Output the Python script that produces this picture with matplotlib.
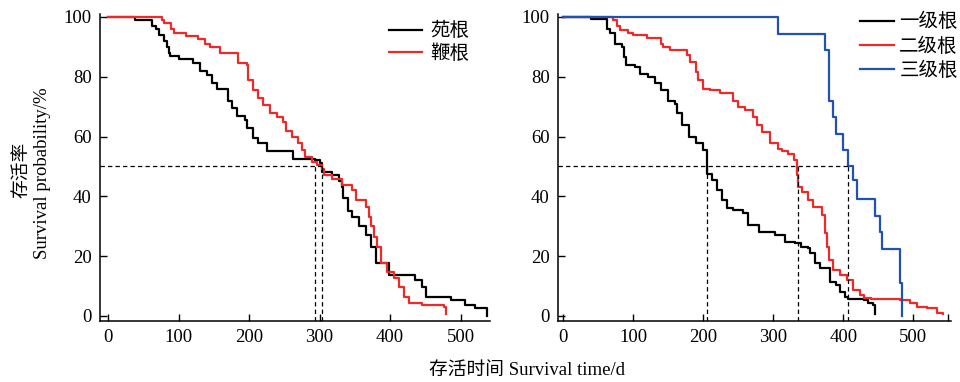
import matplotlib.pyplot as plt

plt.rcParams['font.family'] = ['Liberation Serif', 'Noto Sans CJK SC']
plt.rcParams['axes.unicode_minus'] = False

# left panel: root type
left_names = ['苑根', '鞭根']
left_black_t = [0, 39, 62, 68, 72, 79, 83, 86, 88, 100, 121, 131, 141, 148, 155, 170, 176, 183,
                194, 197, 206, 213, 225, 262, 293, 300, 304, 318, 328, 332, 333, 340, 346, 356,
                366, 373, 380, 398, 436, 445, 451, 487, 507, 521, 537]
left_black_s = [100, 99, 97, 96, 94, 92, 90, 88, 87, 86, 84.5, 82, 80.5, 78, 76, 72, 69.5, 67,
                65.5, 63, 59.5, 58, 55, 52.5, 52, 51, 48, 47, 45, 43, 39.5, 35, 33, 30,
                27, 23, 17.7, 13.7, 12, 9.7, 6.4, 5.3, 3.7, 2.7, 0]
left_red_t = [0, 76, 79, 89, 93, 110, 127, 138, 145, 159, 185, 197, 199, 206, 213, 220, 230, 239,
              248, 253, 261, 269, 275, 279, 290, 296, 304, 306, 318, 332, 346, 352, 366, 370,
              373, 377, 382, 387, 396, 405, 413, 420, 427, 445, 476, 480]
left_red_s = [100, 99, 98, 96, 94.6, 93.6, 92.6, 91, 90, 88, 84.6, 84, 79, 75.6, 73, 70.6, 68, 66.5,
              65, 62, 60, 58, 55.5, 53, 51.5, 50.5, 49, 47, 45.8, 43.8, 42, 38.8, 36.5, 33,
              30, 26.4, 23, 17.7, 14.7, 12.7, 9.7, 6.4, 4.3, 3.7, 3, 0.5]
left_medians = [294, 304]

# right panel: root order
right_names = ['一级根', '二级根', '三级根']
r1_t = [0, 39, 63, 67, 74, 84, 86, 89, 103, 110, 121, 131, 139, 150, 160, 163, 170, 179, 189,
        200, 205, 213, 220, 227, 234, 243, 257, 264, 279, 303, 317, 331, 339, 350, 353, 360,
        367, 381, 389, 396, 403, 407, 429, 436, 443, 446]
r1_s = [100, 99.3, 96, 94.6, 91, 90, 86.6, 84, 83.3, 81, 80, 78, 75.6, 72, 71, 68, 64, 60, 58,
        55.5, 47.5, 45.5, 42, 38.8, 36, 35.5, 34.4, 30.4, 28, 27, 24.7, 24.4, 23, 22.7, 21, 17.7,
        16, 11.4, 10.4, 8, 6.4, 5.7, 5.3, 4.3, 3.7, 0.5]
r2_t = [0, 71, 77, 81, 93, 100, 120, 139, 143, 153, 177, 181, 189, 193, 200, 210, 224, 243, 250,
        260, 271, 277, 284, 296, 307, 313, 321, 329, 334, 336, 341, 350, 357, 370, 374, 377,
        379, 386, 396, 406, 414, 424, 429, 439, 481, 496, 506, 520, 534, 543]
r2_s = [100, 99, 97, 95.6, 94.6, 94, 93, 91, 90, 89, 87.3, 85, 81.6, 79, 76, 75.6, 74.6, 72,
        70, 69, 66.5, 64, 61.5, 58, 56, 55, 54, 52, 47, 43, 41.5, 38.8, 36.5, 33.8, 27.8,
        23, 18.7, 15.4, 13.7, 12, 8.7, 7, 6, 5.7, 5.3, 4.3, 3, 2.7, 1, 0.5]
r3_t = [0, 307, 374, 379, 386, 389, 399, 407, 414, 420, 446, 453, 456, 481, 484]
r3_s = [100, 94.3, 89, 72, 66.5, 61, 55.5, 50, 45.5, 39, 33.5, 28, 22.5, 11, 0]
right_medians = [205, 335, 407]

yticks = [0, 20, 40, 60, 80, 100]
xticks = [0, 100, 200, 300, 400, 500]

fig = plt.figure(figsize=(9.6, 3.82), dpi=100)
ax1 = fig.add_axes([0.1042, 0.1597, 0.40625, 0.8037])
ax2 = fig.add_axes([0.58125, 0.1597, 0.409375, 0.8037])

red = '#f02828'
blue = '#2152b0'
lw = 1.6

ax1.step(left_black_t, left_black_s, where='post', color='black', lw=lw, label=left_names[0])
ax1.step(left_red_t, left_red_s, where='post', color=red, lw=lw, label=left_names[1])

ax2.step(r1_t, r1_s, where='post', color='black', lw=lw, label=right_names[0])
ax2.step(r2_t, r2_s, where='post', color=red, lw=lw, label=right_names[1])
ax2.step(r3_t, r3_s, where='post', color=blue, lw=lw, label=right_names[2])

ax1.set_xlim(-11.3, 541.8)
ax2.set_xlim(-7.6, 553.9)

for ax, meds in [(ax1, left_medians), (ax2, right_medians)]:
    ax.set_ylim(-1.7, 101)
    x0, x1 = ax.get_xlim()
    ax.plot([x0, max(meds)], [50, 50], ls=(0, (3.5, 2.5)), color='black', lw=0.9)
    for m in meds:
        ax.plot([m, m], [-1.7, 50], ls=(0, (3.5, 2.5)), color='black', lw=0.9)
    ax.spines['top'].set_visible(False)
    ax.spines['right'].set_visible(False)
    ax.spines['left'].set_linewidth(1.1)
    ax.spines['bottom'].set_linewidth(1.1)
    ax.set_xticks(xticks)
    ax.set_yticks(yticks)
    ax.tick_params(direction='in', length=5, width=1, labelsize=13.5, pad=6)

ax2.set_xticks([550], minor=True)
ax2.tick_params(axis='x', which='minor', direction='in', length=5, width=1)

ax1.legend(loc='upper left', bbox_to_anchor=(0.695, 1.03), frameon=False, fontsize=14,
           handlelength=1.7, handletextpad=0.45, labelspacing=0.2)
ax2.legend(loc='upper left', bbox_to_anchor=(0.725, 1.06), frameon=False, fontsize=14,
           handlelength=1.75, handletextpad=0.25, labelspacing=0.3)

fig.text(22 / 960, 1 - 170 / 382, '存活率', rotation=90, ha='center', va='center', fontsize=13.5)
fig.text(43 / 960, 1 - 173 / 382, 'Survival probability/%', rotation=90, ha='center', va='center',
         fontsize=13.5)
fig.text(527 / 960, 1 - 370 / 382, '存活时间 Survival time/d', ha='center', va='center', fontsize=13.5)

fig.savefig('out.png', dpi=100)
